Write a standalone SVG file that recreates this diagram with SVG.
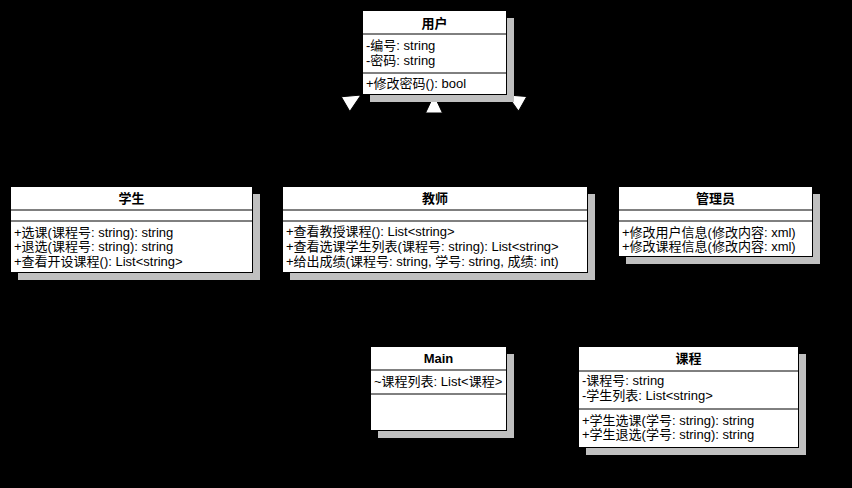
<svg xmlns="http://www.w3.org/2000/svg" width="852" height="488" viewBox="0 0 852 488">
<style>
.shadow{fill:#c0c0c0;stroke:none}
.box{fill:#fff;stroke:#000;stroke-width:1}
.div{stroke:#000;stroke-width:1}
text{font-family:"Liberation Sans","Noto Sans CJK SC",sans-serif;font-size:13px;fill:#000}
.title{font-weight:bold;text-anchor:middle}
.edge{fill:none;stroke:#000;stroke-width:1}
.dash{stroke-dasharray:3 3}
</style>
<defs>
<marker id="gen" viewBox="0 0 20 18" refX="19" refY="9" markerWidth="20" markerHeight="18" markerUnits="userSpaceOnUse" orient="auto">
<path d="M1,0.5 L19,9 L1,17.5 Z" fill="#fff" stroke="#000" stroke-width="1"/>
</marker>
<marker id="open" viewBox="0 0 12 12" refX="11" refY="6" markerWidth="12" markerHeight="12" markerUnits="userSpaceOnUse" orient="auto">
<path d="M1,1 L11,6 L1,11" fill="none" stroke="#000" stroke-width="1"/>
</marker>
</defs>
<rect x="0" y="0" width="852" height="488" fill="#000"/>

<g id="connectors">
<path class="edge" d="M205,187 L361,95" marker-end="url(#gen)"/>
<path class="edge" d="M434,187 L434,95" marker-end="url(#gen)"/>
<path class="edge" d="M671,187 L507,95" marker-end="url(#gen)"/>
<path class="edge dash" d="M219,272 L370,389" marker-end="url(#open)"/>
<path class="edge dash" d="M435,272 L435,346" marker-end="url(#open)"/>
<path class="edge dash" d="M507,390 L578,390" marker-end="url(#open)"/>
</g>

<g id="user">
<rect class="shadow" x="370" y="18" width="144" height="84"/>
<rect class="box" x="362.5" y="10.5" width="144" height="84"/>
<line class="div" x1="362" y1="34" x2="507" y2="34"/>
<line class="div" x1="362" y1="73" x2="507" y2="73"/>
<text class="title" x="434.5" y="27.5">用户</text>
<text x="366" y="50">-编号: string</text>
<text x="366" y="65">-密码: string</text>
<text x="366" y="87.5">+修改密码(): bool</text>
</g>

<g id="student">
<rect class="shadow" x="18" y="194" width="242" height="86"/>
<rect class="box" x="10.5" y="186.5" width="242" height="86"/>
<line class="div" x1="10" y1="210" x2="253" y2="210"/>
<line class="div" x1="10" y1="221" x2="253" y2="221"/>
<text class="title" x="131.5" y="202.5">学生</text>
<text x="14" y="236.5">+选课(课程号: string): string</text>
<text x="14" y="251">+退选(课程号: string): string</text>
<text x="14" y="266">+查看开设课程(): List&lt;string&gt;</text>
</g>

<g id="teacher">
<rect class="shadow" x="290" y="194" width="305" height="86"/>
<rect class="box" x="282.5" y="186.5" width="305" height="86"/>
<line class="div" x1="282" y1="210" x2="588" y2="210"/>
<line class="div" x1="282" y1="221" x2="588" y2="221"/>
<text class="title" x="435" y="202.5">教师</text>
<text x="286" y="236">+查看教授课程(): List&lt;string&gt;</text>
<text x="286" y="251">+查看选课学生列表(课程号: string): List&lt;string&gt;</text>
<text x="286" y="266">+给出成绩(课程号: string, 学号: string, 成绩: int)</text>
</g>

<g id="admin">
<rect class="shadow" x="626" y="194" width="194" height="70"/>
<rect class="box" x="618.5" y="186.5" width="194" height="70"/>
<line class="div" x1="618" y1="210" x2="813" y2="210"/>
<line class="div" x1="618" y1="221" x2="813" y2="221"/>
<text class="title" x="715.5" y="202.5">管理员</text>
<text x="622" y="236.5">+修改用户信息(修改内容: xml)</text>
<text x="622" y="251">+修改课程信息(修改内容: xml)</text>
</g>

<g id="main">
<rect class="shadow" x="378" y="354" width="136" height="84"/>
<rect class="box" x="370.5" y="346.5" width="136" height="84"/>
<line class="div" x1="370" y1="370" x2="507" y2="370"/>
<line class="div" x1="370" y1="394" x2="507" y2="394"/>
<text class="title" x="438.5" y="362.5">Main</text>
<text x="374" y="386">~课程列表: List&lt;课程&gt;</text>
</g>

<g id="course">
<rect class="shadow" x="586" y="354" width="220" height="101"/>
<rect class="box" x="578.5" y="346.5" width="220" height="101"/>
<line class="div" x1="578" y1="371" x2="799" y2="371"/>
<line class="div" x1="578" y1="409" x2="799" y2="409"/>
<text class="title" x="688.5" y="362.5">课程</text>
<text x="582" y="385">-课程号: string</text>
<text x="582" y="400">-学生列表: List&lt;string&gt;</text>
<text x="582" y="424.5">+学生选课(学号: string): string</text>
<text x="582" y="439">+学生退选(学号: string): string</text>
</g>
</svg>
